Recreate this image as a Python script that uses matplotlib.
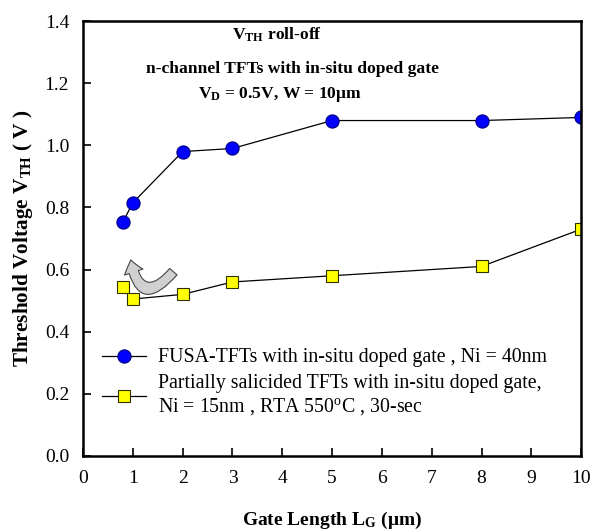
import matplotlib
matplotlib.use('Agg')
import matplotlib.pyplot as plt
from matplotlib.patches import FancyArrowPatch

plt.rcParams['font.family'] = 'Liberation Serif'
plt.rcParams['mathtext.fontset'] = 'custom'
plt.rcParams['mathtext.rm'] = 'Liberation Serif'
plt.rcParams['mathtext.bf'] = 'Liberation Serif:bold'
plt.rcParams['mathtext.it'] = 'Liberation Serif:italic'

# data
fusa_lg = [0.8, 1, 2, 3, 5, 8, 10]
fusa_vth = [0.753, 0.815, 0.98, 0.99, 1.08, 1.08, 1.09]
partial_lg = [0.8, 1, 2, 3, 5, 8, 10]
partial_vth = [0.545, 0.505, 0.52, 0.56, 0.58, 0.61, 0.73]

fusa_label = 'FUSA-TFTs with in-situ doped gate , Ni = 40nm'
partial_label = ('Partially salicided TFTs with in-situ doped gate,\n'
                 'Ni = 15nm , RTA 550$^{\\mathrm{o}}$C , 30-sec')

fig = plt.figure(figsize=(5.93, 5.30), dpi=100)
ax = fig.add_axes([0.14, 0.14, 0.84, 0.82])

ax.plot(fusa_lg, fusa_vth, '-', color='black', lw=0.9, marker='o', ms=9.5,
        mfc='#0000ff', mec='#000080', mew=0.8, label=fusa_label)
ax.plot(partial_lg, partial_vth, '-', color='black', lw=0.9, marker='s', ms=8.5,
        mfc='#ffff00', mec='#303000', mew=0.8, label=partial_label)

# curved arrow between the two short-channel points
arrow = FancyArrowPatch((1.85, 0.6), (0.95, 0.64),
                        connectionstyle='arc3,rad=-1.1',
                        arrowstyle='simple,head_width=14,head_length=9,tail_width=7',
                        facecolor='#d0d0d0', edgecolor='#444444', lw=0.8, zorder=1)
ax.add_patch(arrow)

ax.set_xlim(0, 10)
ax.set_ylim(0, 1.4)
ax.set_xticks(range(0, 11))
ax.set_yticks([0.0, 0.2, 0.4, 0.6, 0.8, 1.0, 1.2, 1.4])
ax.set_yticklabels(['0.0', '0.2', '0.4', '0.6', '0.8', '1.0', '1.2', '1.4'])
ax.tick_params(direction='in', length=6, width=1.2, labelsize=14,
               top=False, right=False, pad=10)
for s in ax.spines.values():
    s.set_linewidth(1.8)

ax.set_xlabel(r'Gate Length L$_{\mathbf{G}}$ ($\mathbf{\mu}$m)', fontsize=14,
              fontweight='bold', labelpad=17)
ax.set_ylabel(r'Threshold Voltage V$_{\mathbf{TH}}$ ( V )', fontsize=15.3,
              fontweight='bold', labelpad=7)

ax.text(3.9, 1.355, r'V$_{\mathbf{TH}}$ roll-off', ha='center', va='center',
        fontsize=12.6, fontweight='bold')
ax.text(4.2, 1.245, 'n-channel TFTs with in-situ doped gate', ha='center',
        va='center', fontsize=12.6, fontweight='bold')
ax.text(3.95, 1.165, r'V$_{\mathbf{D}}$ = 0.5V, W = 10$\mathbf{\mu}$m', ha='center',
        va='center', fontsize=12.6, fontweight='bold')

ax.legend(loc='lower left', bbox_to_anchor=(0.022, 0.07), frameon=False,
          fontsize=14.3, handlelength=2.2, handletextpad=0.6, labelspacing=0.35,
          borderaxespad=0)

fig.savefig('out.png', dpi=100)
